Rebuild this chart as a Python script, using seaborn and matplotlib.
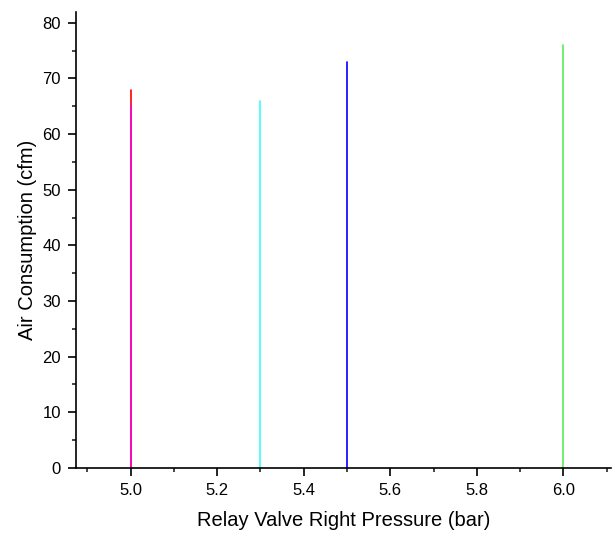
import numpy as np
import pandas as pd
import matplotlib
matplotlib.use("Agg")
import matplotlib.pyplot as plt
from matplotlib.ticker import MultipleLocator
import seaborn as sns

# pressure (bar) and air consumption (cfm) per series
pressure = [5.0, 5.0, 5.3, 5.5, 6.0]
consumption = [68, 65, 66, 73, 76]
colors = ["#ff0000", "#ff00dd", "#33ffff", "#0000ff", "#55ee55"]

sns.set_style("ticks")
plt.rcParams["font.family"] = ["Liberation Sans", "DejaVu Sans"]
plt.rcParams["text.color"] = "black"
plt.rcParams["axes.labelcolor"] = "black"

fig, ax = plt.subplots(figsize=(6.16, 5.34), dpi=100)

for x, h, c in zip(pressure, consumption, colors):
    df = pd.DataFrame({"x": [x, x], "y": [0, h]})
    sns.lineplot(data=df, x="x", y="y", color=c, lw=1.2, ax=ax, estimator=None, sort=False)

ax.set_xlim(4.875, 6.11)
ax.set_ylim(0, 82)
ax.xaxis.set_major_locator(MultipleLocator(0.2))
ax.xaxis.set_minor_locator(MultipleLocator(0.1))
ax.yaxis.set_major_locator(MultipleLocator(10))
ax.yaxis.set_minor_locator(MultipleLocator(5))
ax.xaxis.set_major_formatter(matplotlib.ticker.FormatStrFormatter("%.1f"))
ax.tick_params(which="major", length=6, width=1.2, labelsize=12, colors="black", pad=5)
ax.tick_params(which="minor", length=3, width=1.2)
for s in ["left", "bottom"]:
    ax.spines[s].set_linewidth(1.2)
    ax.spines[s].set_color("black")
sns.despine(ax=ax)

ax.set_xlabel("Relay Valve Right Pressure (bar)", fontsize=14.5, labelpad=9)
ax.set_ylabel("Air Consumption (cfm)", fontsize=14.5, labelpad=4)

fig.subplots_adjust(left=0.124, right=0.992, bottom=0.124, top=0.978)
fig.savefig("out.png", dpi=100)
